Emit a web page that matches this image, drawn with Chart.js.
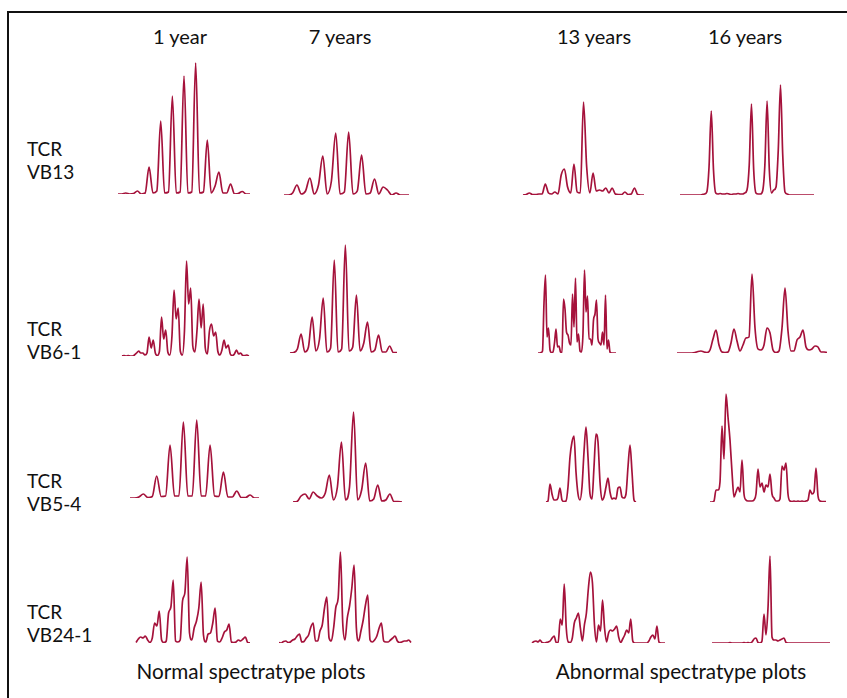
<!DOCTYPE html>
<html>
<head>
<meta charset="utf-8">
<script src="https://cdn.jsdelivr.net/npm/chart.js@4.4.0/dist/chart.umd.min.js"></script>
<style>
  body { margin: 0; width: 847px; height: 698px; background: #fff; position: relative; overflow: hidden;
         font-family: Lato, "Open Sans", sans-serif; color: #111; }
  .frame { position: absolute; left: 7px; top: 11px; width: 900px; height: 800px; border: 2px solid #111; }
  .lbl { position: absolute; white-space: nowrap; }
  .plot { position: absolute; }
</style>
</head>
<body>
<div class="frame"></div>
<script>
// --- TEXT ---
const ageLabels = ['1 year', '7 years', '13 years', '16 years'];
const geneLabels = ['VB13', 'VB6-1', 'VB5-4', 'VB24-1'];
const groupLabels = ['Normal spectratype plots', 'Abnormal spectratype plots'];

// --- TRACES (fluorescence, sampled evenly along fragment size) ---
const vb13_1y = [0, 0, 1, 0, 0.5, 3, 0, 1, 27, 1, 3, 73, 1, 2, 98, 1, 2, 118, 1, 2, 131, 1, 2, 54, 1, 8, 22, 1, 1, 10, 0, 0.5, 2.5, 0, 0];
const vb13_7y = [0, 0, 2, 10, 1, 4, 17, 1, 10, 39, 1, 14, 62, 1, 3, 63, 1, 4, 40, 1, 2, 16, 1, 8, 5, 0, 2, 0, 0, 0];
const vb13_13y = [0, 0.5, 2, 0.5, 0.5, 1, 1, 11, 2, 1, 3, 1, 20, 26, 8, 2, 31, 3, 2, 93, 28, 2, 22, 4, 5, 4, 7, 2, 7, 1, 0.5, 0.5, 3, 0.5, 1, 7, 0.5, 0, 0];
const vb13_16y = [0, 0, 0, 0, 0, 0, 0, 0, 0, 0, 0.5, 1, 3, 28, 84, 25, 2, 1, 1.5, 1, 1, 1.5, 1, 0.5, 1, 1, 1.5, 1, 1, 2,
  5, 30, 91, 25, 2, 1, 1, 4, 30, 94, 25, 2, 5, 8, 45, 110, 40, 3, 1, 0, 0, 0, 0, 0, 0, 0, 0, 0, 0, 0, 0];

const vb61_1y = [0, 0.5, 0, 0.5, 0, 0, 1, 3, 5, 3, 3, 1, 3, 19, 8, 16, 3, 0.5, 5, 39, 17, 26, 4, 1, 20, 66, 37, 48, 5, 1,
  25, 95, 52, 68, 10, 4, 25, 57, 28, 52, 8, 2, 25, 32, 20, 24, 5, 1, 6, 16, 8, 11, 2, 0.5, 2, 6, 2, 3, 0.5, 0.5, 1, 0];
const vb61_7y = [0, 0.5, 4, 19, 1, 6, 36, 2, 14, 55, 1, 5, 93, 1, 4, 108, 2, 6, 58, 2, 10, 31, 1, 3, 18, 1, 1, 7, 0.5, 0.5];
const vb61_13y = [0, 0, 0.5, 2, 50, 78, 16, 25, 3, 0.5, 1, 10, 24, 6, 7, 1, 0.5, 54, 44, 21, 18, 10, 8, 59, 26, 75, 11, 19, 2, 1,
  20, 83, 41, 57, 14, 14, 8, 33, 39, 53, 14, 10, 8, 21, 8, 58, 4, 13, 1, 0, 0, 0, 0];
const vb61_16y = [0, 0, 0, 0, 0, 0, 0.5, 1.5, 2, 1, 0.5, 3, 14, 23, 8, 1, 0.5, 1, 10, 24, 12, 2, 8, 15, 16, 79, 25, 4, 3, 8,
  25, 20, 3, 0.5, 2, 25, 65, 22, 2, 2, 13, 16, 23, 6, 3, 4, 7, 6, 1, 1, 0.5];

const vb54_1y = [0, 0, 1, 4, 0.5, 1.5, 22, 1.5, 2, 53, 2, 2, 76, 2, 2, 78, 2, 2, 53, 2, 1.5, 26, 1, 1, 7, 0.5, 0.5, 3, 0, 0];
const vb54_7y = [0, 0.5, 6, 8, 3, 10, 6, 4, 9, 27, 2, 15, 60, 2, 15, 90, 2, 12, 39, 1, 3, 17, 1, 2, 8, 0.5, 0.5, 0];
const vb54_13y = [0, 1, 18, 8, 2, 2, 4, 14, 2, 0.5, 1, 15, 45, 60, 66, 30, 8, 2, 15, 50, 75, 45, 8, 3, 35, 68, 60, 20, 2, 5,
  15, 24, 10, 3, 4, 3, 14, 15, 5, 4, 8, 35, 57, 30, 2, 0];
const vb54_16y = [0, 0, 1, 12, 12, 20, 76, 43, 108, 85, 62, 30, 5, 10, 15, 10, 42, 8, 2, 1, 1, 1, 2, 8, 33, 15, 19, 10, 17, 15,
  28, 8, 4, 1, 1, 3, 36, 32, 39, 8, 1, 0.5, 1, 0.5, 1, 0.5, 1, 0.5, 1, 2, 12, 8, 10, 34, 6, 1, 0.5, 0.5, 0.5];

const vb241_1y = [0.5, 4, 6, 5, 7, 3, 0.5, 5, 20, 17, 32, 3, 0.5, 2, 30, 36, 63, 2, 1, 3, 42, 50, 86, 10, 3, 15, 22, 35, 61, 8,
  1, 9, 10, 20, 35, 2, 1, 5, 11, 13, 19, 1, 0.5, 1, 3, 2, 4, 6, 0.5, 0];
const vb241_7y = [0.5, 0, 1.5, 2, 0.5, 1, 3, 4, 7, 9, 1, 1.5, 5, 8, 16, 20, 2, 2, 12, 18, 35, 46, 5, 2, 15, 36, 45, 91, 20, 3,
  25, 37, 55, 78, 15, 2, 12, 23, 38, 48, 3, 1, 3, 7, 15, 20, 2, 1, 1, 3, 5, 7, 2, 0.5, 1, 2, 2, 3, 0.5];
const vb241_13y = [0, 1.5, 2, 1, 3, 0.5, 0, 0.5, 1, 2, 5, 7, 0.5, 0.5, 24, 18, 59, 15, 1, 0.5, 5, 20, 25, 30, 15, 2, 18, 30, 55, 71,
  60, 18, 1, 18, 12, 43, 15, 1, 10, 13, 12, 14, 17, 6, 0.5, 4, 8, 13, 10, 24, 2, 0, 0, 0, 0, 0, 0, 0, 2, 6, 8, 4, 17, 1, 0, 0, 0];
const vb241_16y = [0, 0, 0, 0, 0, 0, 0, 0, 0, 0.5, 0, 0, 0, 0, 0, 0, 0.5, 0, 0.5, 0, 1, 4, 5, 0.5, 0, 2, 29, 8, 35, 87,
  6, 3, 3, 2, 3, 4, 5, 0.5, 0, 0, 0, 0, 0, 0, 0, 0, 0, 0, 0, 0, 0, 0, 0, 0, 0, 0, 0, 0, 0, 0];

// --- LAYOUT ---
const LINE = '#a5123b';
const Y_MAX = 140;
const PAD = { top: 4, bottom: 2, left: 2, right: 2 };

const plots = [
  { data: vb13_1y, x0: 118, x1: 250, base: 194 },
  { data: vb13_7y, x0: 284, x1: 409, base: 195 },
  { data: vb13_13y, x0: 523.3, x1: 644, base: 195 },
  { data: vb13_16y, x0: 680, x1: 814, base: 194.7 },
  { data: vb61_1y, x0: 121.7, x1: 248.3, base: 355.7 },
  { data: vb61_7y, x0: 290, x1: 397.3, base: 353.3 },
  { data: vb61_13y, x0: 538.3, x1: 616, base: 352.7 },
  { data: vb61_16y, x0: 676.7, x1: 826.7, base: 352.7 },
  { data: vb54_1y, x0: 130.3, x1: 259.4, base: 498.3 },
  { data: vb54_7y, x0: 292.7, x1: 401.7, base: 501.7 },
  { data: vb54_13y, x0: 546, x1: 636, base: 502.3 },
  { data: vb54_16y, x0: 710, x1: 826, base: 501.7 },
  { data: vb241_1y, x0: 135.5, x1: 249.4, base: 643.3 },
  { data: vb241_7y, x0: 279, x1: 410.7, base: 643.3 },
  { data: vb241_13y, x0: 531.7, x1: 665, base: 643.3 },
  { data: vb241_16y, x0: 711.7, x1: 830, base: 642.7 }
];

const colCenters = [180, 340, 594, 745];
const rowBaselines = [155.5, 335.5, 487.5, 618.5];
const groupCenters = [251, 681];

// --- HELPERS ---
function addLabel(text, x, baseline, size, centered) {
  const el = document.createElement('div');
  el.className = 'lbl';
  el.textContent = text;
  el.style.fontSize = size + 'px';
  el.style.lineHeight = size + 'px';
  el.style.left = x + 'px';
  // Lato: baseline sits ~0.887em below the top of a 1em line box
  el.style.top = (baseline - 0.887 * size) + 'px';
  if (centered) el.style.transform = 'translateX(-50%)';
  document.body.appendChild(el);
}

function makePlot(p) {
  const w = Math.round(p.x1 - p.x0 + PAD.left + PAD.right);
  const h = Y_MAX + PAD.top + PAD.bottom;
  const canvas = document.createElement('canvas');
  canvas.className = 'plot';
  canvas.width = w;
  canvas.height = h;
  canvas.style.left = (p.x0 - PAD.left) + 'px';
  canvas.style.top = (p.base - Y_MAX - PAD.top) + 'px';
  canvas.style.width = w + 'px';
  canvas.style.height = h + 'px';
  document.body.appendChild(canvas);

  new Chart(canvas.getContext('2d'), {
    type: 'line',
    data: {
      labels: p.data.map((_, i) => i),
      datasets: [{
        data: p.data, borderColor: LINE, borderWidth: 1.7, pointRadius: 0,
        cubicInterpolationMode: 'monotone', fill: false
      }]
    },
    options: {
      responsive: false, animation: false, events: [],
      layout: { padding: PAD },
      plugins: { legend: { display: false }, tooltip: { enabled: false } },
      scales: {
        x: { display: false, offset: false },
        y: { display: false, min: 0, max: Y_MAX }
      }
    }
  });
}

// --- BUILD ---
ageLabels.forEach((t, i) => addLabel(t, colCenters[i], 44, 20, true));
geneLabels.forEach((g, i) => {
  addLabel('TCR', 27, rowBaselines[i], 19, false);
  addLabel(g, 27, rowBaselines[i] + 23, 19, false);
});
groupLabels.forEach((t, i) => addLabel(t, groupCenters[i], 679, 20.7, true));
plots.forEach(makePlot);
</script>
</body>
</html>
